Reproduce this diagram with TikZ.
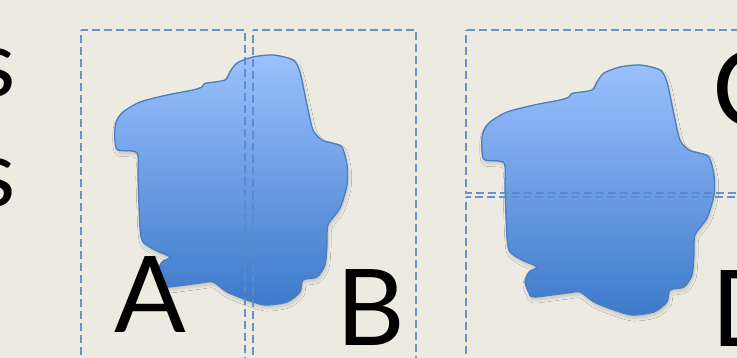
\documentclass[tikz,border=0pt]{standalone}
\usepackage{fontspec}
\setmainfont{Lato}
\usetikzlibrary{shadows.blur}
\definecolor{bg}{HTML}{EDEBE1}
\definecolor{blobtop}{HTML}{9BC0FC}
\definecolor{blobbot}{HTML}{3D7ACB}
\definecolor{blobline}{HTML}{4A7EBF}
\definecolor{dashblue}{HTML}{5A8ACB}
\tikzset{
  region/.style={draw=dashblue, line width=1.8pt, dash pattern=on 8pt off 4pt, dash phase=-5pt, opacity=0.9},
  blob/.style={draw=blobline, line width=1.3pt, top color=blobtop, bottom color=blobbot,
    blur shadow={shadow xshift=1pt, shadow yshift=-3pt, shadow blur steps=8, shadow opacity=18, shadow blur radius=3pt}},
  biglabel/.style={inner sep=0pt, anchor=base west, font=\fontsize{106}{110}\selectfont},
  slabel/.style={inner sep=0pt, anchor=base east, font=\fontsize{93}{100}\selectfont}
}
\newcommand\myblob{plot[smooth cycle, tension=0.45] coordinates {
 (115,128) (115,142) (118,150) (137,153) (138,178) (140,228) (143,242) (155,250)
 (170,257) (162,262) (158,272) (162,283) (167,287) (200,283) (213,282) (227,292)
 (247,300) (265,305) (287,302) (300,292) (303,280) (317,277) (325,265) (327,245)
 (328,225) (340,208) (347,185) (347,165) (342,147) (332,143) (322,140) (313,130)
 (307,105) (300,72) (293,60) (273,55) (253,57) (237,63) (230,72) (225,80)
 (207,83) (204,84) (202,87) (193,90) (167,95) (140,102) (123,112) (117,120)}}
\begin{document}
\begin{tikzpicture}[x=1pt, y=-1pt]
\useasboundingbox (0,0) rectangle (737,358);
\fill[bg] (0,0) rectangle (737,358);
\clip (0,0) rectangle (737,358);
% left partial words
\node[slabel] (s1) at (16,97) {s};
\node[slabel] (s2) at (16,207) {s};
% blobs
\path[blob] \myblob;
\begin{scope}[shift={(367,10)}]
\path[blob] \myblob;
\end{scope}
% labels
\node[biglabel] (A) at (114,333) {A};
\node[biglabel] (B) at (336,345) {B};
\node[biglabel] (C) at (712,127) {C};
\node[biglabel] (D) at (711,347) {D};
% dashed regions
\draw[region] (81,30) rectangle (245,370);
\draw[region] (253,30) rectangle (416,370);
\draw[region] (466,30) rectangle (760,193);
\draw[region] (466,197) rectangle (760,370);
\end{tikzpicture}
\end{document}
